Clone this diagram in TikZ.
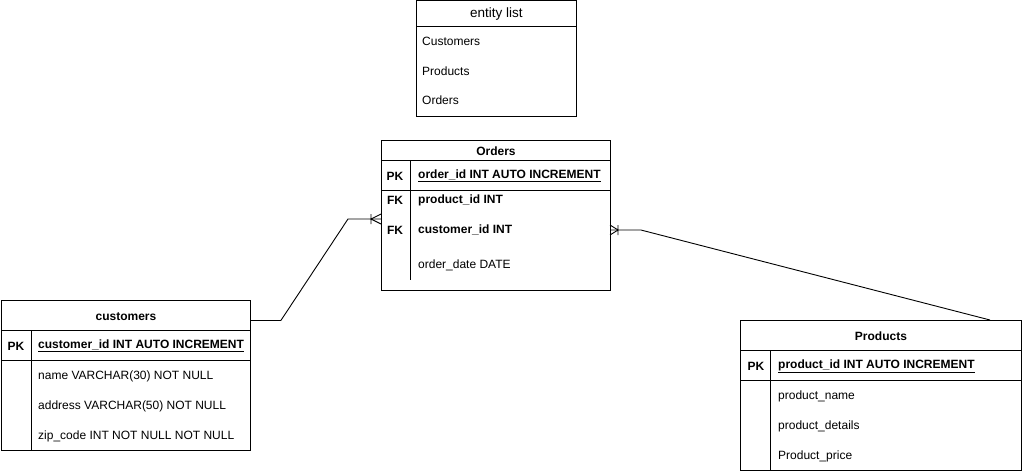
\documentclass[tikz,border=0pt]{standalone}
\usepackage{fontspec}
\setmainfont{Liberation Sans}
\usetikzlibrary{positioning}
\begin{document}
\begin{tikzpicture}
	[x=1pt,y=-1pt,font=\fontsize{12}{14}\selectfont,
	tbl/.style={draw,line width=0.9pt,anchor=north west,inner sep=0pt},
	ttl/.style={font=\fontsize{12}{14}\selectfont\bfseries,yshift=-1pt},
	fld/.style={anchor=west,inner sep=0pt,yshift=-1pt},
	key/.style={font=\fontsize{12}{14}\selectfont\bfseries,inner sep=0pt,yshift=-1pt},
	rel/.style={line width=0.9pt}]
	\useasboundingbox (0,0) rectangle (1029,471);
	% entity list
	\node[tbl,minimum width=160pt,minimum height=26pt,name=elistT] at (416,0) {};
	\node[tbl,minimum width=160pt,minimum height=90pt,name=elistB] at (416,26) {};
	\node[name=elistL,font=\fontsize{13.5}{15}\selectfont,yshift=-1pt] at (elistT.center) {entity list};
	\node[fld,name=e1] at (422,40) {Customers};
	\node[fld,name=e2] at (422,70) {Products};
	\node[fld,name=e3] at (422,99) {Orders};
	% Orders
	\node[tbl,minimum width=229pt,minimum height=20pt,name=ordT] at (381,140) {};
	\node[tbl,minimum width=229pt,minimum height=30pt,name=ordP] at (381,160) {};
	\node[tbl,minimum width=229pt,minimum height=100pt,name=ordB] at (381,190) {};
	\node[ttl,name=ordL] at (ordT.center) {Orders};
	\draw[rel] (ordP.north west) ++(29,0) -- ++(0,120);
	\node[key,name=ordK1] at (395,175) {PK};
	\node[fld,font=\fontsize{12}{14}\selectfont\bfseries,name=ordF1] at (418,175) {\underline{order\_id INT AUTO INCREMENT}};
	\node[key,name=ordK2] at (395,199) {FK};
	\node[fld,font=\fontsize{12}{14}\selectfont\bfseries,name=ordF2] at (418,199) {product\_id INT};
	\node[key,name=ordK3] at (395,229) {FK};
	\node[fld,font=\fontsize{12}{14}\selectfont\bfseries,name=ordF3] at (418,229) {customer\_id INT};
	\node[fld,name=ordF4] at (418,264) {order\_date DATE};
	% customers
	\node[tbl,minimum width=249pt,minimum height=30pt,name=custT] at (1,300) {};
	\node[tbl,minimum width=249pt,minimum height=30pt,name=custP] at (1,330) {};
	\node[tbl,minimum width=249pt,minimum height=90pt,name=custB] at (1,360) {};
	\node[ttl,name=custL] at (custT.center) {customers};
	\draw[rel] (custP.north west) ++(30,0) -- ++(0,120);
	\node[key,name=custK1] at (16,345) {PK};
	\node[fld,font=\fontsize{12}{14}\selectfont\bfseries,name=custF1] at (38,345) {\underline{customer\_id INT AUTO INCREMENT}};
	\node[fld,name=custF2] at (38,375) {name VARCHAR(30) NOT NULL};
	\node[fld,name=custF3] at (38,405) {address VARCHAR(50) NOT NULL};
	\node[fld,name=custF4] at (38,435) {zip\_code INT NOT NULL NOT NULL};
	% Products
	\node[tbl,minimum width=281pt,minimum height=30pt,name=prodT] at (740,320) {};
	\node[tbl,minimum width=281pt,minimum height=30pt,name=prodP] at (740,350) {};
	\node[tbl,minimum width=281pt,minimum height=90pt,name=prodB] at (740,380) {};
	\node[ttl,name=prodL] at (prodT.center) {Products};
	\draw[rel] (prodP.north west) ++(30,0) -- ++(0,120);
	\node[key,name=prodK1] at (756,365) {PK};
	\node[fld,font=\fontsize{12}{14}\selectfont\bfseries,name=prodF1] at (778,365) {\underline{product\_id INT AUTO INCREMENT}};
	\node[fld,name=prodF2] at (778,395) {product\_name};
	\node[fld,name=prodF3] at (778,425) {product\_details};
	\node[fld,name=prodF4] at (778,455) {Product\_price};
	% relations
	\draw[rel] ([yshift=-5pt]custT.east) -- ++(30,0) -- (348,219) -- (ordB.west |- 0,219);
	\draw[rel] (381,214) -- (371,219) -- (381,224) (371,214) -- (371,224);
	\draw[rel] (ordB.east |- 0,230) -- ++(30,0) -- (prodT.north -| 990,0);
	\draw[rel] (610,225) -- (618,230) -- (610,235) (618,225) -- (618,235);
\end{tikzpicture}
\end{document}
